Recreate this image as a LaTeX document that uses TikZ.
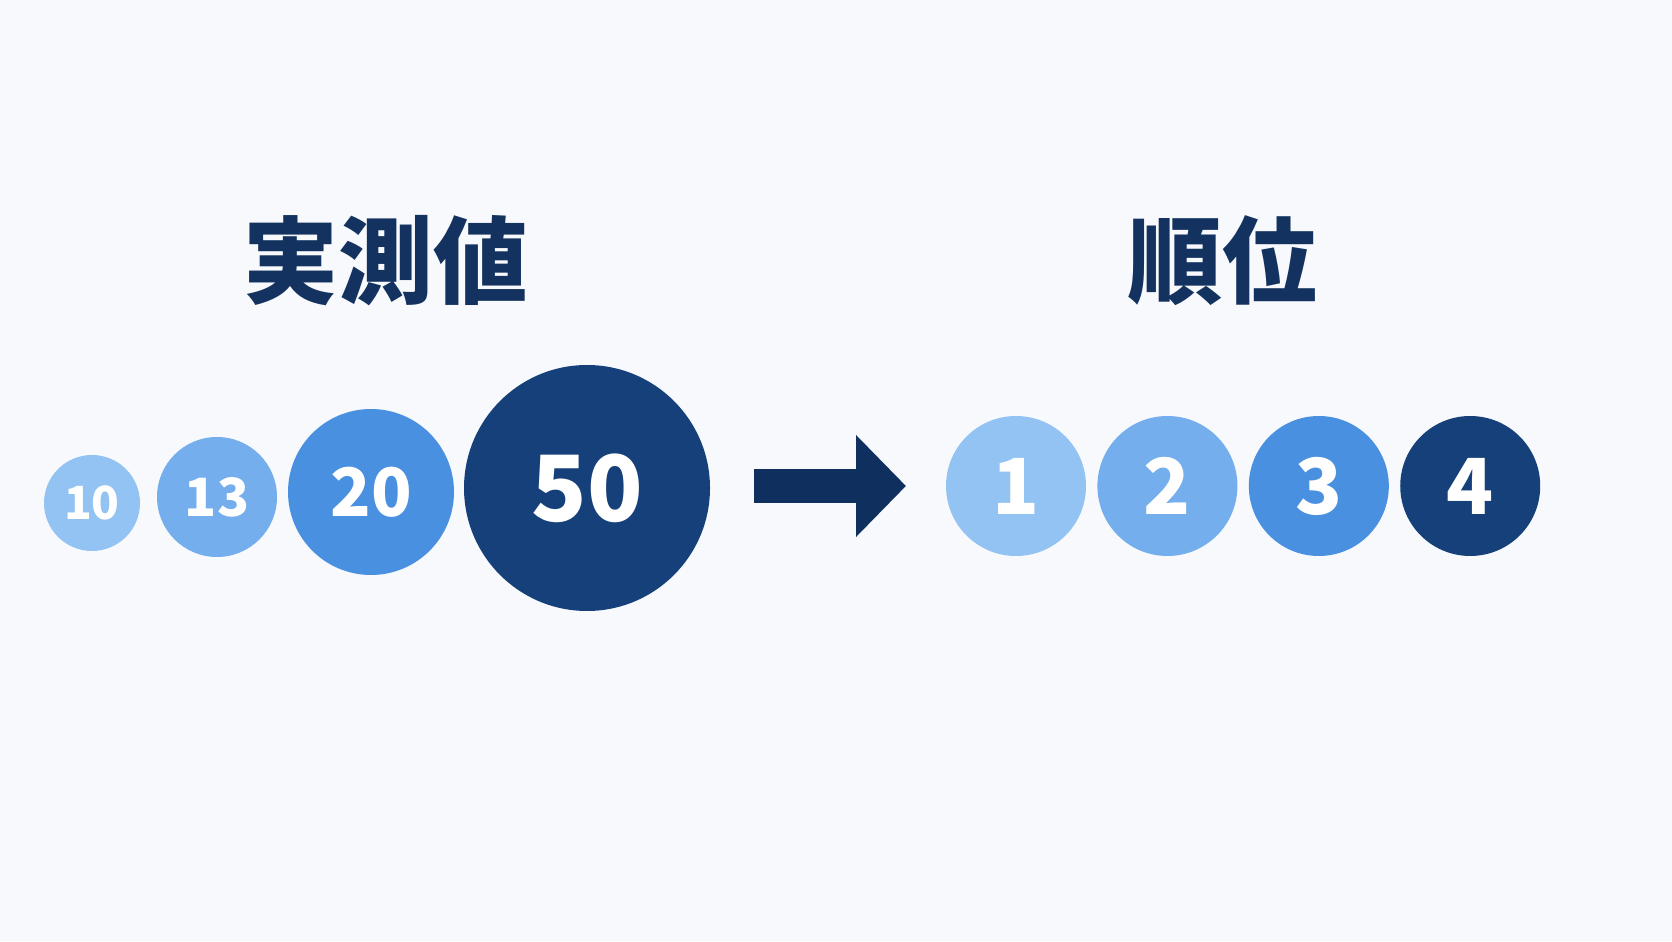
\documentclass[tikz,border=0pt]{standalone}
\usepackage{fontspec}
\setmainfont{Noto Sans CJK JP}
\usetikzlibrary{arrows.meta, positioning}
\definecolor{bgpale}{HTML}{F7F9FC}
\definecolor{titlenavy}{HTML}{13325F}
\definecolor{rankpale}{HTML}{93C3F3}
\definecolor{ranklight}{HTML}{74AEEC}
\definecolor{rankmid}{HTML}{4A90E0}
\definecolor{rankdark}{HTML}{15407A}
\definecolor{arrownavy}{HTML}{0F2F5E}
\tikzset{
  valcircle/.style={circle, draw=none, text=white, inner sep=0pt, font=\bfseries},
  headline/.style={text=titlenavy, font=\fontsize{27}{27}\selectfont\bfseries}
}
\begin{document}
\begin{tikzpicture}
  % Background
  \fill[bgpale] (0,0) rectangle (16.72,9.41);
  \useasboundingbox (0,0) rectangle (16.72,9.41);

  % Titles
  \node[headline] (measTitle) at (3.86,6.80) {実測値};
  \node[headline] (rankTitle) at (12.22,6.80) {順位};

  % Measured values
  \node[valcircle, fill=rankpale, minimum size=0.96cm, font=\fontsize{13}{13}\selectfont\bfseries] (v10) at (0.92,4.38) {10};
  \node[valcircle, fill=ranklight, minimum size=1.20cm, font=\fontsize{15}{15}\selectfont\bfseries] (v13) at (2.17,4.44) {13};
  \node[valcircle, fill=rankmid, minimum size=1.66cm, font=\fontsize{19}{19}\selectfont\bfseries] (v20) at (3.71,4.49) {20};
  \node[valcircle, fill=rankdark, minimum size=2.46cm, font=\fontsize{26}{26}\selectfont\bfseries] (v50) at (5.87,4.53) {50};

  % Arrow
  \coordinate (arrStart) at (7.54,4.55);
  \coordinate (arrEnd) at (9.06,4.55);
  \draw[arrownavy, line width=0.34cm, -{Triangle[length=0.5cm, width=0.99cm]}] (arrStart) -- (arrEnd);

  % Ranks
  \node[valcircle, fill=rankpale, minimum size=1.40cm, font=\fontsize{22}{22}\selectfont\bfseries] (r1) at (10.16,4.55) {1};
  \node[valcircle, fill=ranklight, minimum size=1.40cm, font=\fontsize{22}{22}\selectfont\bfseries, right=0.10cm of r1] (r2) {2};
  \node[valcircle, fill=rankmid, minimum size=1.40cm, font=\fontsize{22}{22}\selectfont\bfseries, right=0.10cm of r2] (r3) {3};
  \node[valcircle, fill=rankdark, minimum size=1.40cm, font=\fontsize{22}{22}\selectfont\bfseries, right=0.10cm of r3] (r4) {4};
\end{tikzpicture}
\end{document}
